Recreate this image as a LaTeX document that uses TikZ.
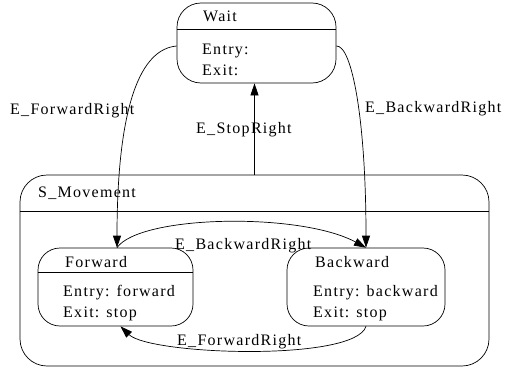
\documentclass[tikz,border=0pt]{standalone}
\usepackage{fontspec}
\setmainfont{Liberation Serif}[LetterSpace=8.0]
\usetikzlibrary{arrows.meta}
\begin{document}
\begin{tikzpicture}[x=1pt,y=-1pt,
  every node/.style={font=\fontsize{16}{19}\selectfont},
  sbox/.style={draw, line width=0.7pt, rounded corners=#1, inner sep=0pt},
  txt/.style={anchor=base west, inner sep=0pt},
  arr/.style={draw, line width=0.7pt, -{Triangle[length=12pt,width=8pt]}},
  ln/.style={line width=0.7pt}]
\useasboundingbox (0,0) rectangle (505,369);
% boxes
\node[sbox=24pt, minimum width=159pt, minimum height=80pt] (wait) at (256.5,43) {};
\node[sbox=27pt, minimum width=469pt, minimum height=191pt] (smove) at (254.5,270.5) {};
\node[sbox=22pt, minimum width=155pt, minimum height=78pt] (fwd) at (115.5,287) {};
\node[sbox=22pt, minimum width=158pt, minimum height=78pt] (bwd) at (366,287) {};
% dividers
\draw[ln] (wait.west |- 0,29) -- (wait.east |- 0,29);
\draw[ln] (smove.west |- 0,211) -- (smove.east |- 0,211);
\draw[ln] (fwd.west |- 0,272) -- (fwd.east |- 0,272);
% texts
\node[txt] (twait) at (203,22) {Wait};
\node[txt] (twen) at (202,54) {Entry:};
\node[txt] (twex) at (202,75) {Exit:};
\node[txt] (tsm) at (38,197) {S\_Movement};
\node[txt] (tfw) at (65,267) {Forward};
\node[txt] (tfwen) at (63,296) {Entry: forward};
\node[txt] (tfwex) at (63,317) {Exit: stop};
\node[txt] (tbw) at (315,267) {Backward};
\node[txt] (tbwen) at (313,296) {Entry: backward};
\node[txt] (tbwex) at (313,317) {Exit: stop};
% connectors
\draw[arr] ([yshift=-3pt]wait.west) .. controls (130,50) and (117,140) .. ([xshift=1.5pt]fwd.north);
\draw[arr] ([yshift=-3pt]wait.east) .. controls (352,45) and (366,120) .. (bwd.north);
\draw[arr] (smove.north) -- (smove.north |- wait.south);
\draw[arr] ([xshift=1.5pt]fwd.north) .. controls (140,215) and (300,212) .. (bwd.north);
\draw[arr] (bwd.south) .. controls (355,362) and (150,355) .. ([xshift=5pt]fwd.south);
% connector labels
\node[txt] (l1) at (10,114) {E\_ForwardRight};
\node[txt] (l2) at (365,112) {E\_BackwardRight};
\node[txt] (l3) at (196,133) {E\_StopRight};
\node[txt] (l4) at (175,249) {E\_BackwardRight};
\node[txt] (l5) at (177,345) {E\_ForwardRight};
\end{tikzpicture}
\end{document}
